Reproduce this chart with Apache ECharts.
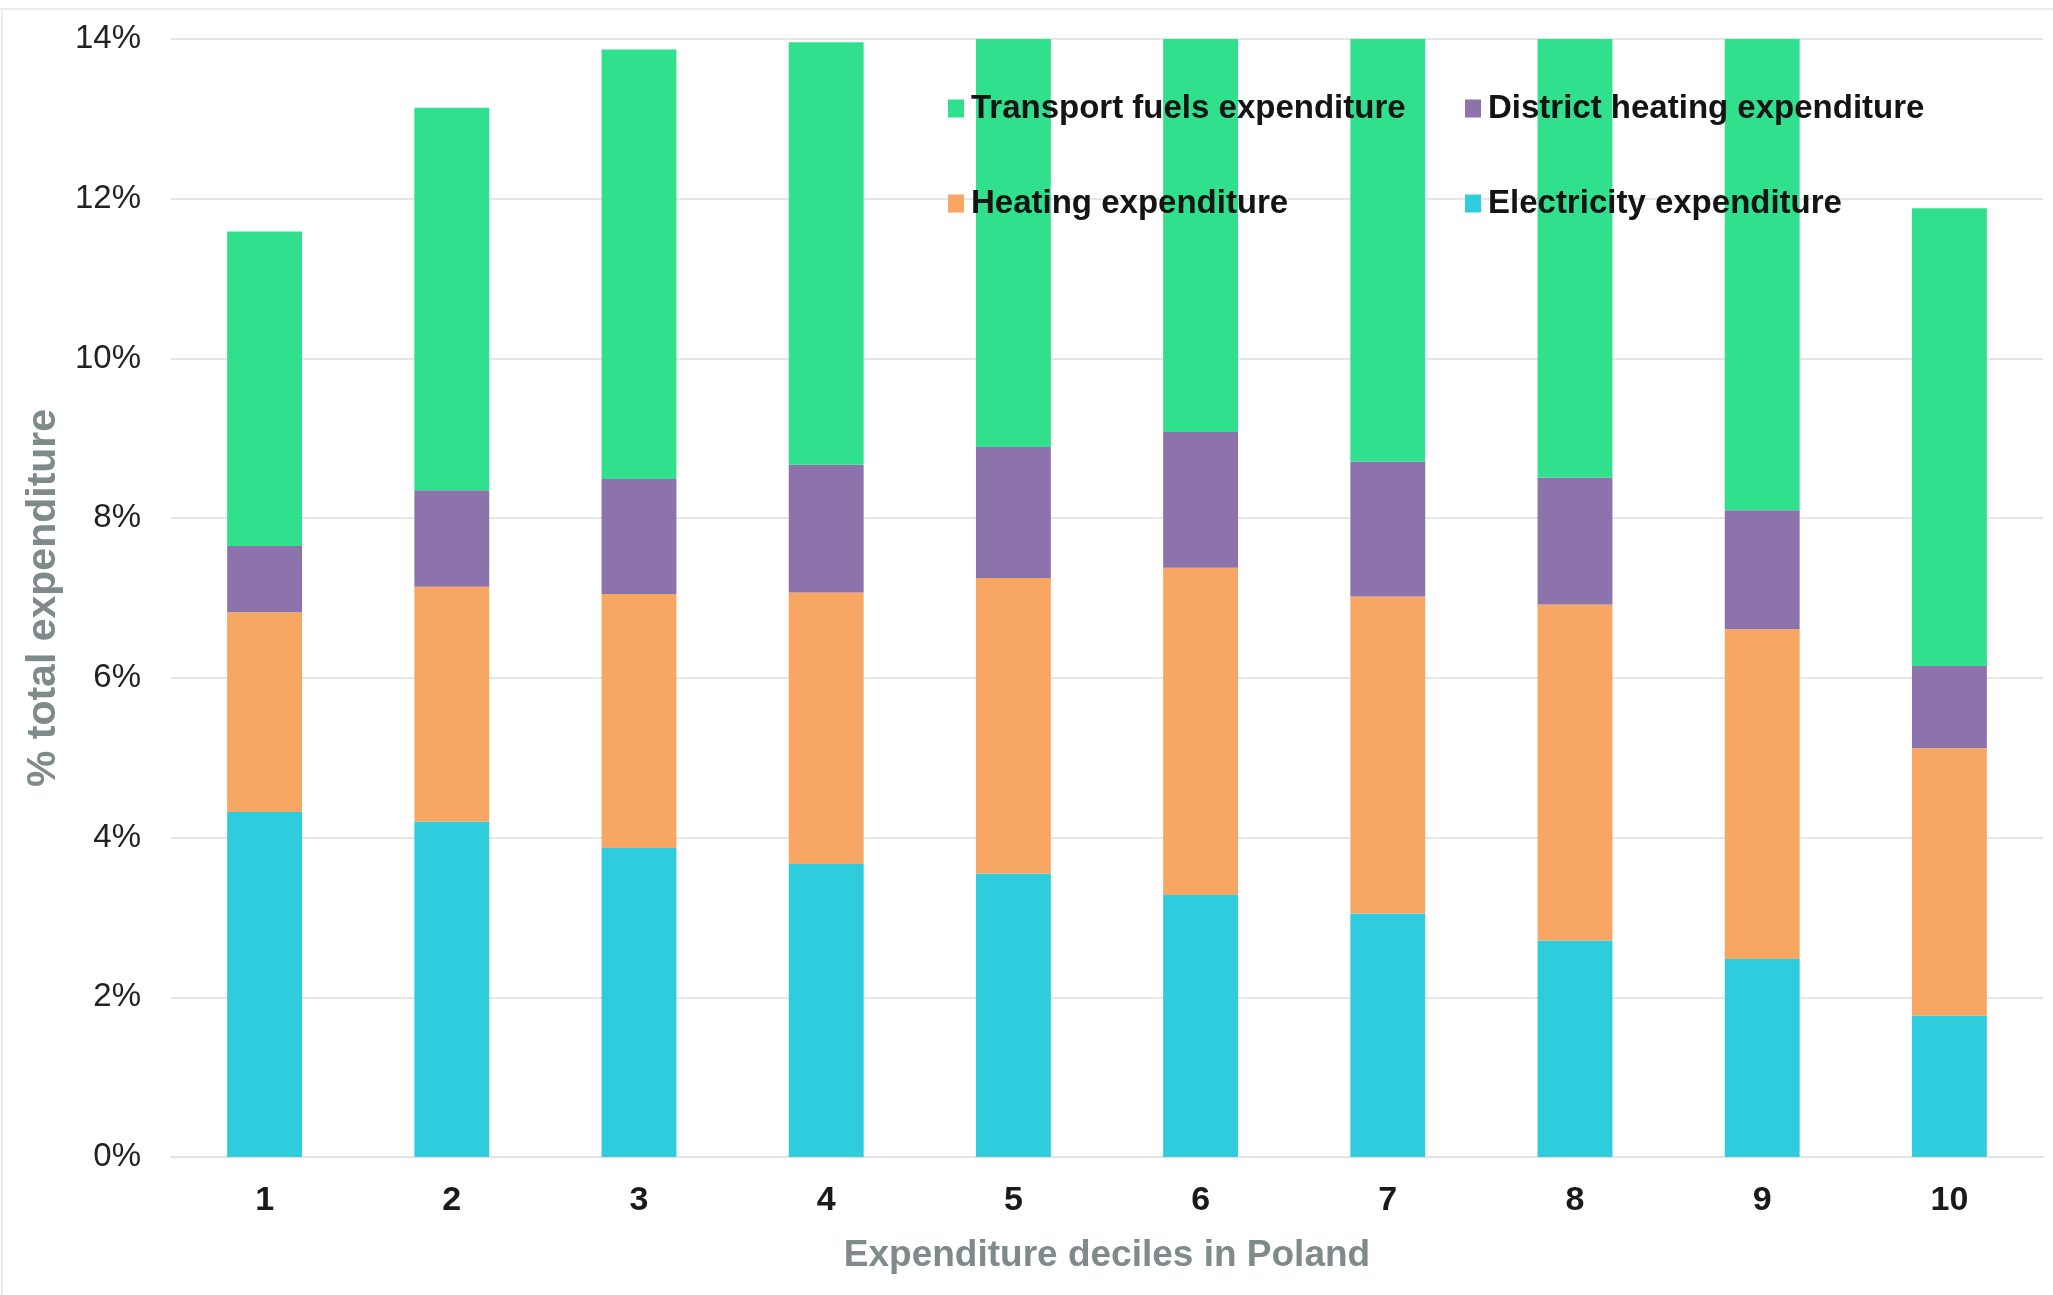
<!DOCTYPE html>
<html>
<head>
<meta charset="utf-8">
<script src="https://cdn.jsdelivr.net/npm/echarts@6/dist/echarts.min.js"></script>
<style>
html,body{margin:0;padding:0;background:#fff;}
#c{width:2053px;height:1295px;}
</style>
</head>
<body>
<div id="c"></div>
<script>
var categories = ['1','2','3','4','5','6','7','8','9','10'];
// cumulative boundaries (% of total expenditure)
var electricity = [4.32, 4.20, 3.87, 3.67, 3.55, 3.28, 3.05, 2.71, 2.48, 1.77];
var heatingTop  = [6.82, 7.14, 7.05, 7.07, 7.25, 7.38, 7.02, 6.92, 6.61, 5.12];
var districtTop = [7.65, 8.35, 8.49, 8.67, 8.89, 9.08, 8.71, 8.51, 8.10, 6.15];
var transportTop= [11.59, 13.14, 13.87, 13.96, 14.6, 14.8, 14.5, 14.3, 14.2, 11.88];
var yTicks = [0, 2, 4, 6, 8, 10, 12, 14];

function diff(a, b){ return a.map(function(v,i){ return +(v - b[i]).toFixed(3); }); }
var heating = diff(heatingTop, electricity);
var district = diff(districtTop, heatingTop);
var transport = diff(transportTop, districtTop);

var FN = "'Liberation Sans', Arial, sans-serif";
var colors = {
  transport: '#30E08C',
  district: '#8C73AB',
  heating: '#F7A664',
  electricity: '#2ECCDD'
};

var chart = echarts.init(document.getElementById('c'));
function bar(name, data, color){
  return {
    name: name, type: 'bar', stack: 'total', data: data,
    barWidth: '40%', clip: true,
    itemStyle: { color: color },
    emphasis: { disabled: true }
  };
}
var legendText = { fontFamily: FN, fontWeight: 'bold', fontSize: 33, color: '#141414', padding: [0,0,0,2] };
chart.setOption({
  animation: false,
  backgroundColor: '#ffffff',
  grid: { left: 171, right: 10, top: 39, bottom: 138, containLabel: false },
  legend: [
    { orient: 'vertical', left: 943, top: 87, itemGap: 62, itemWidth: 16, itemHeight: 18, icon: 'rect',
      data: ['Transport fuels expenditure', 'Heating expenditure'], textStyle: legendText, selectedMode: false },
    { orient: 'vertical', left: 1460, top: 87, itemGap: 62, itemWidth: 16, itemHeight: 18, icon: 'rect',
      data: ['District heating expenditure', 'Electricity expenditure'], textStyle: legendText, selectedMode: false }
  ],
  xAxis: {
    type: 'category', data: categories,
    axisLine: { show: true, lineStyle: { color: '#e3e3e3', width: 2 } },
    axisTick: { show: false },
    axisLabel: { fontFamily: FN, fontWeight: 'bold', fontSize: 34, color: '#1a1a1a', margin: 27 },
    name: 'Expenditure deciles in Poland', nameLocation: 'middle', nameGap: 80,
    nameTextStyle: { fontFamily: FN, fontWeight: 'bold', fontSize: 37, color: '#7f8a8a' }
  },
  yAxis: {
    type: 'value', min: 0, max: 14, interval: 2,
    axisLine: { show: false }, axisTick: { show: false },
    splitLine: { lineStyle: { color: '#e6e6e6', width: 2 } },
    axisLabel: { fontFamily: FN, fontSize: 33, color: '#222', margin: 30,
      formatter: function(v){ return yTicks.indexOf(v) >= 0 ? v + '%' : ''; } },
    name: '% total expenditure', nameLocation: 'middle', nameGap: 73,
    nameTextStyle: { fontFamily: FN, fontWeight: 'bold', fontSize: 41, color: '#7f8a8a' }
  },
  series: [
    bar('Electricity expenditure', electricity, colors.electricity),
    bar('Heating expenditure', heating, colors.heating),
    bar('District heating expenditure', district, colors.district),
    bar('Transport fuels expenditure', transport, colors.transport)
  ],
  graphic: [
    { type: 'line', shape: { x1: 0, y1: 9, x2: 2053, y2: 9 }, style: { stroke: '#ececec', lineWidth: 2 }, silent: true },
    { type: 'line', shape: { x1: 2, y1: 9, x2: 2, y2: 1295 }, style: { stroke: '#ececec', lineWidth: 2 }, silent: true }
  ]
});
</script>
</body>
</html>
